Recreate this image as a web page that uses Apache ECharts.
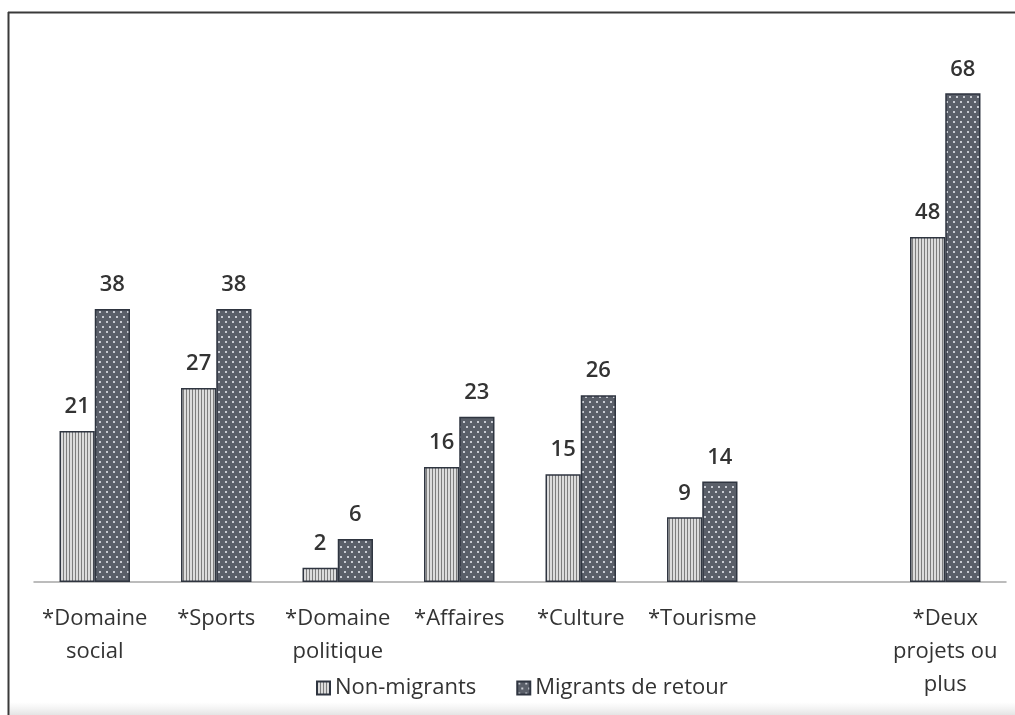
<!DOCTYPE html>
<html>
<head>
<meta charset="utf-8">
<script src="https://cdn.jsdelivr.net/npm/echarts@6/dist/echarts.min.js"></script>
<style>
html,body{margin:0;padding:0;background:#fff;}
#c{width:1015px;height:715px;}
</style>
</head>
<body>
<div id="c"></div>
<script>
var categories = ['*Domaine\nsocial', '*Sports', '*Domaine\npolitique', '*Affaires', '*Culture', '*Tourisme', '', '*Deux\nprojets ou\nplus'];
var nonMigrants = [21, 27, 2, 16, 15, 9, null, 48];
var migrantsRetour = [38, 38, 6, 23, 26, 14, null, 68];
var seriesNames = ['Non-migrants', 'Migrants de retour'];

function stripeCanvas() {
  var c = document.createElement('canvas');
  c.width = 3; c.height = 4;
  var g = c.getContext('2d');
  g.fillStyle = '#dcdcdc'; g.fillRect(0, 0, 3, 4);
  g.fillStyle = '#7d7d7d'; g.fillRect(0, 0, 1, 4);
  return c;
}
function dotCanvas() {
  var c = document.createElement('canvas');
  c.width = 7; c.height = 10;
  var g = c.getContext('2d');
  g.fillStyle = '#5a5f69'; g.fillRect(0, 0, 7, 10);
  g.fillStyle = '#c9ccd3';
  g.fillRect(1, 1, 2, 2);
  g.fillRect(4, 6, 2, 2);
  return c;
}

var chart = echarts.init(document.getElementById('c'), null, {renderer: 'canvas'});
var font = '"Open Sans", "Noto Sans", sans-serif';
var labelCfg = {
  show: true, position: 'top', distance: 13,
  fontFamily: font, fontSize: 22, fontWeight: 600, color: '#333'
};
chart.setOption({
  backgroundColor: '#ffffff',
  animation: false,
  grid: {left: 34, right: 9, top: 43, bottom: 133},
  legend: {
    bottom: 11, left: 311,
    itemWidth: 13, itemHeight: 13, itemGap: 40,
    icon: 'rect',
    textStyle: {fontFamily: font, fontSize: 22, color: '#333'},
    data: seriesNames
  },
  xAxis: {
    type: 'category',
    data: categories,
    axisLine: {lineStyle: {color: '#a6a6a6', width: 1.5}},
    axisTick: {show: false},
    axisLabel: {
      interval: 0, margin: 20,
      fontFamily: font, fontSize: 22, color: '#333', lineHeight: 33
    }
  },
  yAxis: {
    type: 'value', min: 0, max: 75, show: false,
    splitLine: {show: false}
  },
  series: [
    {
      name: seriesNames[0], type: 'bar', data: nonMigrants,
      barGap: '0%', barCategoryGap: '42%',
      itemStyle: {color: {image: stripeCanvas(), repeat: 'repeat'}, borderColor: '#2f3540', borderWidth: 1.5},
      label: labelCfg
    },
    {
      name: seriesNames[1], type: 'bar', data: migrantsRetour,
      barGap: '0%', barCategoryGap: '42%',
      itemStyle: {color: {image: dotCanvas(), repeat: 'repeat'}, borderColor: '#2f3540', borderWidth: 1.5},
      label: labelCfg
    }
  ],
  graphic: [
    {type: 'line', shape: {x1: 8.5, y1: 12, x2: 8.5, y2: 715}, style: {stroke: '#3a3a3a', lineWidth: 2}},
    {type: 'line', shape: {x1: 8, y1: 12.5, x2: 1015, y2: 12.5}, style: {stroke: '#3a3a3a', lineWidth: 2}},
    {type: 'rect', shape: {x: 9.5, y: 702, width: 1006, height: 13}, z: -1,
     style: {fill: {type: 'linear', x: 0, y: 0, x2: 0, y2: 1, colorStops: [{offset: 0, color: 'rgba(235,235,235,0)'}, {offset: 1, color: '#e4e4e4'}]}}}
  ]
});
</script>
</body>
</html>
